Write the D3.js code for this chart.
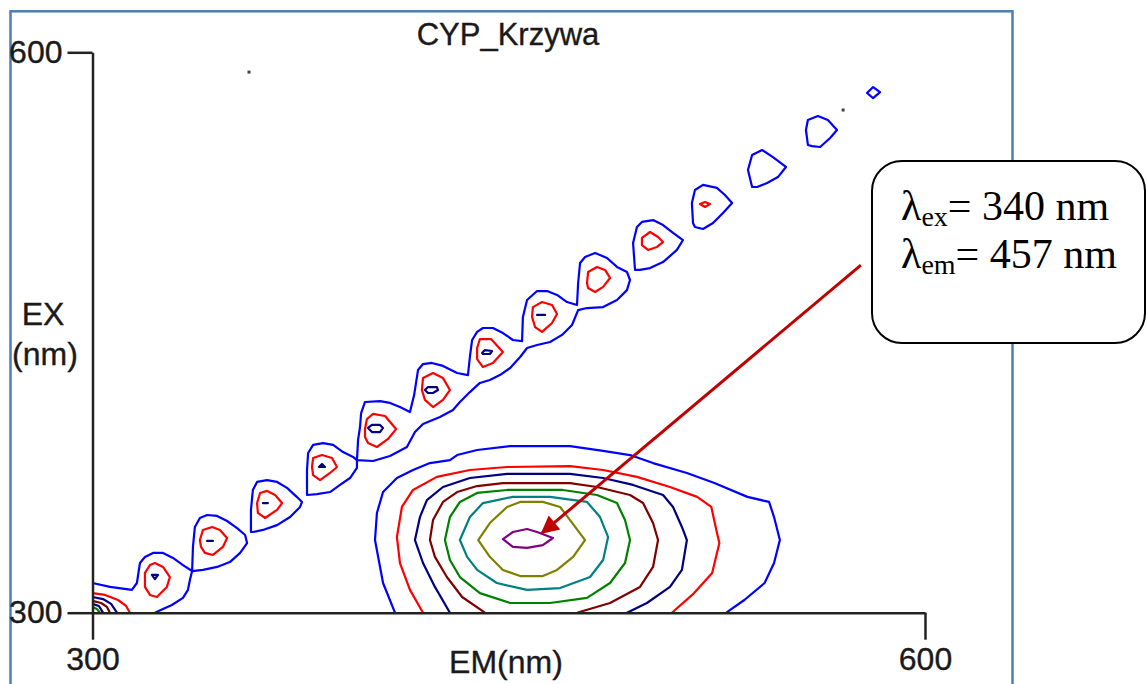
<!DOCTYPE html>
<html>
<head>
<meta charset="utf-8">
<script src="https://cdn.jsdelivr.net/npm/d3@7"></script>
<style>
  html, body { margin: 0; padding: 0; background: #fff; }
  svg { display: block; }
</style>
</head>
<body>
<svg id="chart" width="1146" height="684"></svg>
<script>
// ---- axes / labels ----
const chartTitle = "CYP_Krzywa";
const emDomain = [300, 600];
const exDomain = [300, 600];
const emTicks = [300, 600];
const exTicks = [300, 600];
const emLabel = "EM(nm)";
const exLabel = ["EX", "(nm)"];

// ---- annotated maximum ----
const peakEx = 340;
const peakEm = 457;
// arrow from the note down to the maximum, [em, ex]
const arrowFrom = [576.9, 486.1];
const arrowTo = [462.0, 342.7];

// ---- contour lines, points are [em nm, ex nm] ----
// main fluorescence peak, level 1 (outermost) .. level 8
const peakL1 = [[409.0,300],[404.7,315.9],[401.8,338.9],[402.5,353.4],[404.7,364.6],[409.7,372.1],[415.5,376.4],[421.6,380.1],[428.8,381.7],[431.4,384.4],[438.6,387.1],[450.5,389.2],[472.1,389.2],[484.0,386.6],[493.7,384.4],[502.0,380.1],[514.2,374.8],[524.1,369.4],[536.0,362.0],[543.8,359.3],[545.6,351.2],[547.7,338.9],[545.6,326.6],[542.2,315.9],[534.9,306.8],[528.4,300]];
const peakL2 = [[419.1,300],[414.4,312.2],[410.8,326.6],[409.7,340.5],[411.5,356.6],[415.5,365.7],[424.1,372.7],[436.0,376.4],[449.4,378.0],[472.1,378.5],[484.0,376.4],[496.2,372.7],[508.1,367.3],[517.9,362.0],[523.0,356.6],[524.8,344.3],[525.9,337.3],[523.3,321.3],[516.8,310.5],[508.8,300]];
const peakL3 = [[428.8,300],[423.4,313.8],[419.1,326.6],[416.2,338.9],[418.0,351.2],[420.5,360.3],[426.3,367.3],[436.0,372.1],[449.4,374.3],[472.1,374.3],[484.0,372.1],[494.8,368.4],[505.6,363.0],[509.2,356.6],[512.4,345.9],[514.2,338.9],[512.4,322.9],[508.1,313.8],[499.8,305.2],[492.6,300]];
const peakL4 = [[441.4,300],[433.2,308.4],[427.7,319.1],[423.4,329.9],[421.6,338.9],[422.7,349.6],[426.3,359.3],[431.4,364.6],[438.6,367.8],[447.9,369.4],[472.1,369.4],[481.8,367.3],[493.7,363.0],[498.4,358.7],[502.0,348.0],[503.8,338.9],[502.0,324.5],[497.3,313.8],[486.5,305.2],[474.6,300]];
const peakL5 = [[427.0,338.9],[428.8,351.2],[432.4,359.3],[438.6,364.1],[449.4,365.7],[469.5,365.7],[481.8,363.0],[489.0,358.7],[491.9,349.6],[493.7,338.9],[491.9,326.6],[486.5,315.9],[478.2,307.9],[464.9,305.2],[450.5,305.2],[439.6,310.5],[432.4,319.1],[428.8,328.2]];
const peakL6 = [[432.4,338.9],[436.0,351.2],[440.7,358.7],[451.5,362.0],[464.9,362.0],[478.2,359.3],[482.9,351.2],[485.8,340.5],[484.0,328.2],[479.3,319.1],[468.5,313.2],[456.6,312.2],[445.7,315.9],[438.6,322.9],[435.0,329.9]];
const peakL7 = [[439.0,338.9],[443.2,348.0],[449.4,356.6],[454.1,359.3],[462.3,359.3],[468.5,356.6],[472.1,349.6],[477.5,338.9],[473.2,329.9],[467.4,322.9],[462.3,319.6],[454.1,319.6],[447.9,322.9],[443.2,329.9]];
const peakL8 = [[447.9,339.4],[451.5,343.2],[456.6,344.8],[460.2,343.2],[465.9,340.0],[462.3,336.2],[456.6,334.7],[451.5,335.2]];

// scatter ridge, level 1 (outer)
const ridgeStart = [[300.0,315.9],[306.3,313.8],[314.2,312.2],[316.0,315.9],[317.1,326.6],[318.9,329.8],[321.8,332.0],[325.4,332.0],[329.0,329.3],[332.6,325.5],[335.9,322.3],[335.1,317.5],[334.4,312.2],[332.6,307.9],[328.6,304.1],[325.4,302.0],[322.5,300]];
const ridgeDrop2 = [[335.9,322.3],[336.2,335.2],[336.9,345.9],[338.7,350.7],[341.3,352.3],[344.9,351.8],[348.5,349.1],[352.1,345.3],[355.0,341.6],[355.7,337.3],[353.2,332.0],[349.5,327.1],[344.9,324.5],[339.8,322.9]];
const ridgeDrop3 = [[357.1,343.2],[357.1,355.0],[357.8,365.7],[359.3,370.0],[362.9,371.0],[366.5,370.0],[370.1,366.8],[373.7,361.9],[375.5,359.3],[374.8,356.6],[371.2,351.2],[366.5,346.9],[361.4,344.3],[357.8,343.2]];
const ridgeDrop4 = [[377.3,363.0],[377.3,376.4],[377.7,385.5],[379.5,389.8],[383.1,390.8],[386.7,389.8],[390.3,386.0],[393.9,383.4],[395.3,381.7],[395.3,377.5],[392.8,372.1],[389.2,368.4],[385.6,364.6],[380.9,363.5]];
const ridgeBand = [[395.3,381.7],[395.7,392.5],[396.4,399.4],[396.8,406.9],[398.2,412.8],[403.6,413.3],[407.2,412.3],[410.8,410.1],[414.4,407.4],[415.9,416.5],[417.3,429.9],[419.1,433.1],[422.3,433.7],[426.3,432.1],[431.4,428.3],[435.3,427.2],[436.0,436.9],[436.8,446.0],[438.6,450.3],[440.7,452.4],[444.3,452.4],[447.9,449.7],[451.5,446.0],[454.8,445.4],[455.1,458.3],[456.6,467.4],[460.2,472.2],[463.8,472.2],[467.4,470.1],[471.0,466.3],[474.6,464.7],[475.0,476.5],[475.7,487.2],[477.5,490.4],[481.1,492.6],[485.4,489.9],[489.0,485.1],[492.6,482.4],[493.7,478.1],[492.6,472.7],[489.0,467.4],[484.0,463.6],[478.2,463.1],[475.0,462.0],[472.8,454.0],[469.2,448.7],[464.9,444.9],[460.2,443.3],[456.6,441.7],[454.1,436.9],[450.5,431.0],[446.8,427.2],[443.2,424.6],[439.6,423.0],[436.0,418.1],[432.4,412.8],[429.9,408.5],[425.2,404.8],[419.1,401.0],[416.2,396.7],[413.3,388.7],[407.2,383.9],[401.1,381.2]];
const ridgeDrop10 = [[495.5,483.5],[494.8,497.9],[496.2,506.5],[498.0,509.2],[502.0,510.2],[505.6,507.5],[509.2,503.3],[512.8,499.5],[510.6,494.2],[505.6,487.7],[500.9,484.5],[497.3,483.5]];
const ridgeDrop11 = [[516.4,508.6],[516.0,519.3],[517.1,526.3],[520.0,529.0],[525.0,527.4],[527.9,523.6],[530.5,519.3],[527.2,514.0],[523.6,508.6],[520.0,505.4],[517.1,506.5]];
const ridgeDrop12 = [[537.7,527.9],[536.2,537.0],[537.7,545.0],[541.3,547.7],[545.2,543.9],[549.9,538.6],[547.0,533.2],[543.1,530.0],[539.5,527.9]];
const ridgeDrop13 = [[557.8,550.4],[557.1,558.4],[557.8,563.8],[561.4,565.9],[565.0,563.8],[568.3,558.4],[565.8,554.1],[562.2,549.3],[559.3,549.8]];
const ridgeDrop14 = [[579.1,578.2],[581.3,581.4],[583.8,578.7],[581.3,575.5]];

// scatter ridge, level 2
const ridgeRed1 = [[318.9,321.3],[320.7,325.5],[322.5,326.6],[325.4,324.5],[327.9,319.1],[326.8,313.8],[323.2,308.4],[320.7,309.5],[318.9,313.8]];
const ridgeRed2 = [[338.7,338.9],[339.8,344.3],[343.1,345.9],[345.9,344.3],[348.5,340.0],[347.0,335.2],[343.4,330.9],[340.5,332.0],[339.1,335.2]];
const ridgeRed3 = [[359.3,358.7],[360.4,364.1],[362.9,365.2],[365.8,363.0],[368.3,358.7],[366.5,355.0],[362.2,350.7],[359.6,353.4]];
const ridgeRed4 = [[379.1,378.0],[379.5,382.8],[382.7,384.4],[386.3,382.8],[388.1,378.0],[385.6,374.8],[382.0,371.0],[379.5,373.7]];
const ridgeRed5 = [[398.2,398.3],[398.9,403.7],[401.1,406.4],[405.4,405.3],[409.4,398.3],[406.5,393.0],[402.5,388.7],[399.3,390.8],[398.2,394.1]];
const ridgeRed6 = [[418.7,419.2],[419.1,425.6],[422.7,428.3],[426.3,425.6],[428.8,419.2],[426.3,413.9],[422.7,410.1],[419.8,413.9]];
const ridgeRed7 = [[438.6,441.7],[439.6,446.5],[443.6,446.5],[447.9,439.6],[444.3,433.7],[440.7,431.5],[438.6,435.8]];
const ridgeRed8 = [[458.4,458.3],[458.7,463.6],[462.0,466.3],[465.6,464.7],[467.4,459.9],[465.6,455.1],[462.0,450.3],[459.5,452.9]];
const ridgeRed9 = [[478.2,476.5],[478.6,482.4],[481.8,485.1],[484.7,483.5],[486.5,479.2],[484.0,474.4],[481.1,471.7],[478.6,473.8]];
const ridgeRed10 = [[498.0,496.8],[498.0,500.6],[500.9,503.8],[503.8,501.1],[505.6,498.4],[503.4,495.8],[500.2,494.2]];
const ridgeRed11 = [[518.9,518.8],[520.7,519.9],[522.5,518.8],[520.7,517.2]];

// scatter ridge, level 3 (small inner rings)
const ridgeNavy1 = [[321.4,320.2],[323.6,320.2],[322.5,318.0]];
const ridgeNavy2 = [[341.3,338.4],[343.4,338.4]];
const ridgeNavy3 = [[361.4,358.7],[363.2,358.7]];
const ridgeNavy4 = [[381.6,378.0],[382.7,379.6],[383.8,378.0]];
const ridgeNavy5 = [[399.3,398.9],[400.7,400.5],[403.6,400.5],[404.7,398.9],[403.6,396.7],[400.7,396.7]];
const ridgeNavy6 = [[419.8,419.2],[420.9,420.8],[424.1,420.8],[424.5,419.2],[422.7,417.6],[420.9,417.6]];
const ridgeNavy7 = [[440.4,439.0],[441.4,440.6],[444.0,440.1],[443.2,438.5],[440.7,438.5]];
const ridgeNavy8 = [[460.2,459.4],[463.1,459.4]];

// steep rise in the low corner, levels 2..5
const cornerL2 = [[300,310.5],[304.5,309.5],[309.2,306.8],[312.1,303.6],[313.5,300]];
const cornerL3 = [[300,308.4],[303.8,307.3],[306.7,304.7],[308.8,300]];
const cornerL4 = [[300,306.3],[303.1,305.2],[305.2,303.1],[306.3,300]];
const cornerL3b = [[300,304.7],[302.3,303.6],[303.8,300]];
const cornerL5 = [[300,303.1],[301.6,302.0],[302.7,300]];

// isolated single-cell specks
const specks = [[356.4,589.4],[570.5,569.1]];

// contour list: [points, level index, closed]
const contourLines = [
  [peakL1, 0, false], [peakL2, 1, false], [peakL3, 2, false], [peakL4, 3, false],
  [peakL5, 4, true], [peakL6, 5, true], [peakL7, 6, true], [peakL8, 7, true],
  [ridgeStart, 0, false], [ridgeDrop2, 0, true], [ridgeDrop3, 0, true], [ridgeDrop4, 0, true],
  [ridgeBand, 0, true], [ridgeDrop10, 0, true], [ridgeDrop11, 0, true], [ridgeDrop12, 0, true],
  [ridgeDrop13, 0, true], [ridgeDrop14, 0, true],
  [ridgeRed1, 1, true], [ridgeRed2, 1, true], [ridgeRed3, 1, true], [ridgeRed4, 1, true],
  [ridgeRed5, 1, true], [ridgeRed6, 1, true], [ridgeRed7, 1, true], [ridgeRed8, 1, true],
  [ridgeRed9, 1, true], [ridgeRed10, 1, true], [ridgeRed11, 1, true],
  [ridgeNavy1, 2, true], [ridgeNavy2, 2, true], [ridgeNavy3, 2, true], [ridgeNavy4, 2, true],
  [ridgeNavy5, 2, true], [ridgeNavy6, 2, true], [ridgeNavy7, 2, true], [ridgeNavy8, 2, true],
  [cornerL2, 1, false], [cornerL3, 2, false], [cornerL4, 3, false], [cornerL3b, 2, false], [cornerL5, 4, false]
];

// level colours (outer -> inner)
const levelColors = ["#0000ff", "#ff0000", "#000080", "#800000", "#008000", "#008080", "#808000", "#800080"];

// ---- drawing ----
const svg = d3.select("#chart");
const x = d3.scaleLinear().domain(emDomain).range([92.5, 925]);
const y = d3.scaleLinear().domain(exDomain).range([612.7, 52.3]);

// outer chart frame
svg.append("rect")
  .attr("x", 10.5).attr("y", 11.3)
  .attr("width", 1002).attr("height", 700)
  .attr("fill", "none").attr("stroke", "#4a7ebb").attr("stroke-width", 2.5);

const sansFont = "'Liberation Sans', Arial, sans-serif";
const textColor = "#1a1a1a";

// title
svg.append("text")
  .attr("x", 508).attr("y", 45)
  .attr("text-anchor", "middle")
  .attr("font-family", sansFont).attr("font-size", 31)
  .attr("fill", textColor).attr("stroke", textColor).attr("stroke-width", 0.35)
  .text(chartTitle);

// contours
const lineOpen = d3.line().x(d => x(d[0])).y(d => y(d[1]));
const lineClosed = d3.line().x(d => x(d[0])).y(d => y(d[1])).curve(d3.curveLinearClosed);

svg.append("g")
  .selectAll("path")
  .data(contourLines)
  .join("path")
  .attr("d", d => (d[2] ? lineClosed : lineOpen)(d[0]))
  .attr("fill", "none")
  .attr("stroke", d => levelColors[d[1]])
  .attr("stroke-width", 2.2)
  .attr("stroke-linejoin", "round");

svg.append("g")
  .selectAll("rect")
  .data(specks)
  .join("rect")
  .attr("x", d => x(d[0]) - 1.5).attr("y", d => y(d[1]) - 1.5)
  .attr("width", 3).attr("height", 3)
  .attr("fill", "#444");

// axes
function styleAxis(g) {
  g.selectAll("path, line").attr("stroke", "#222").attr("stroke-width", 2.5);
  g.selectAll("text")
    .attr("font-family", sansFont).attr("font-size", 32)
    .attr("fill", textColor).attr("stroke", textColor).attr("stroke-width", 0.35);
}
svg.append("g")
  .attr("transform", `translate(0,${y(exDomain[0])})`)
  .call(d3.axisBottom(x).tickValues(emTicks).tickSize(27).tickSizeOuter(0).tickPadding(8).tickFormat(d3.format("d")))
  .call(styleAxis);
svg.append("g")
  .attr("transform", `translate(${x(emDomain[0])},0)`)
  .call(d3.axisLeft(y).tickValues(exTicks).tickSize(25).tickSizeOuter(0).tickPadding(5).tickFormat(d3.format("d")))
  .call(styleAxis);

// axis titles
svg.append("text")
  .attr("x", 506).attr("y", 673)
  .attr("text-anchor", "middle")
  .attr("font-family", sansFont).attr("font-size", 32)
  .attr("fill", textColor).attr("stroke", textColor).attr("stroke-width", 0.35)
  .text(emLabel);
svg.append("text")
  .attr("text-anchor", "middle")
  .attr("font-family", sansFont).attr("font-size", 32)
  .attr("fill", textColor).attr("stroke", textColor).attr("stroke-width", 0.35)
  .selectAll("tspan")
  .data(exLabel)
  .join("tspan")
  .attr("x", (d, i) => i === 0 ? 43 : 45)
  .attr("y", (d, i) => i === 0 ? 325 : 365)
  .text(d => d);

// arrow to the maximum
const arrowColor = "#c00000";
svg.append("defs").append("marker")
  .attr("id", "arrowHead")
  .attr("viewBox", "0 0 10 10")
  .attr("refX", 9).attr("refY", 5)
  .attr("markerWidth", 7.5).attr("markerHeight", 6)
  .attr("markerUnits", "strokeWidth")
  .attr("orient", "auto")
  .append("path")
  .attr("d", "M0,0 L10,5 L0,10 z")
  .attr("fill", arrowColor);

svg.append("line")
  .attr("x1", x(arrowFrom[0])).attr("y1", y(arrowFrom[1]))
  .attr("x2", x(arrowTo[0])).attr("y2", y(arrowTo[1]))
  .attr("stroke", arrowColor).attr("stroke-width", 3)
  .attr("marker-end", "url(#arrowHead)");

// note box
svg.append("rect")
  .attr("x", 872).attr("y", 161)
  .attr("width", 273).attr("height", 182)
  .attr("rx", 30).attr("ry", 30)
  .attr("fill", "#fff").attr("stroke", "#000").attr("stroke-width", 2);

const serifFont = "'Liberation Serif', 'Times New Roman', serif";
const noteLines = [["ex", peakEx], ["em", peakEm]];
const note = svg.append("g")
  .attr("font-family", serifFont).attr("fill", "#000");
note.selectAll("text")
  .data(noteLines)
  .join("text")
  .attr("x", 901)
  .attr("y", (d, i) => 220 + i * 48)
  .attr("font-size", 42)
  .each(function(d) {
    const t = d3.select(this);
    t.append("tspan").text("λ");
    t.append("tspan").attr("font-size", 28).attr("dy", 6).text(d[0]);
    t.append("tspan").attr("dy", -6).text("= " + d[1] + " nm");
  });
</script>
</body>
</html>
